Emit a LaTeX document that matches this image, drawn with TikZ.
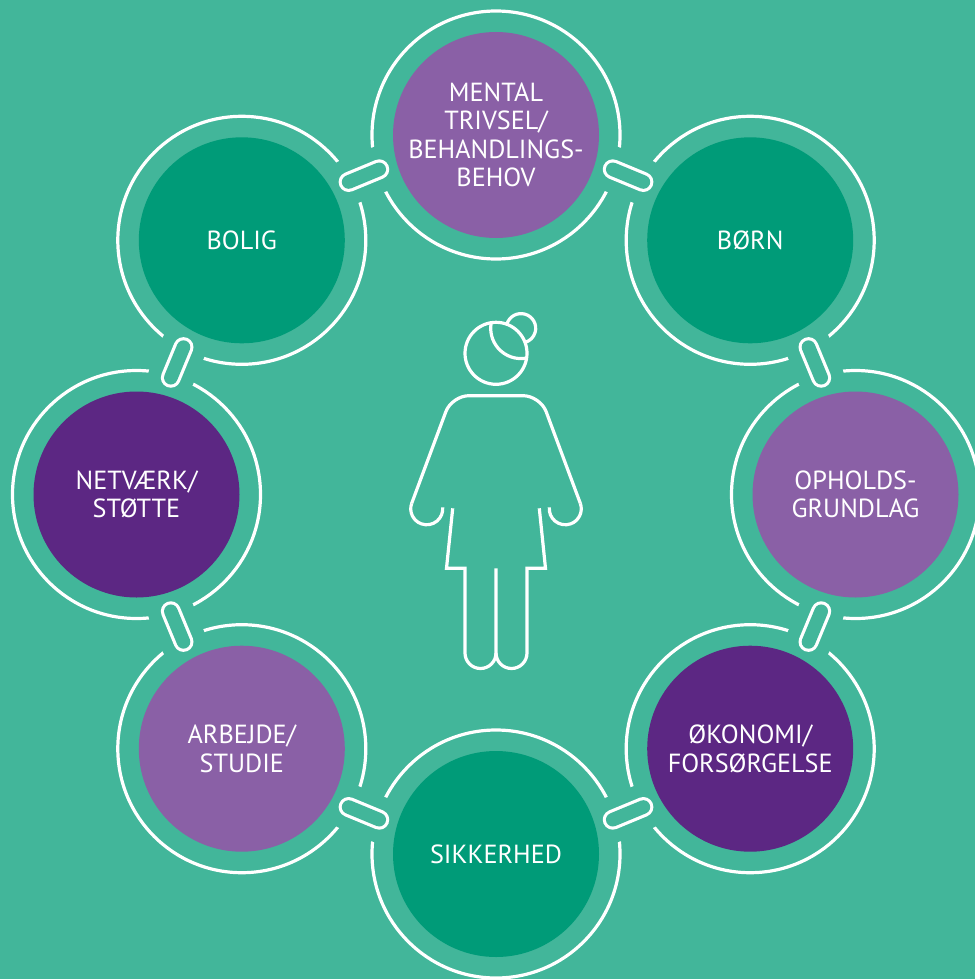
\documentclass[tikz,border=0pt]{standalone}
\usepackage{fontspec}
\setmainfont{PT Sans}
\usepackage{tikz}
\usetikzlibrary{calc}
\usepackage{xcolor}
\definecolor{bgteal}{HTML}{42B69A}
\definecolor{leafgreen}{HTML}{009B78}
\definecolor{lilac}{HTML}{8A60A6}
\definecolor{plum}{HTML}{5C2783}

\begin{document}
\begin{tikzpicture}[x=1pt, y=-1pt,
  ring/.style={circle, draw=white, line width=3.2pt, minimum size=248pt, inner sep=0pt},
  disc/.style={circle, minimum size=206pt, inner sep=0pt, text=white, align=center,
    font=\fontsize{26.2}{28.5}\selectfont},
  link/.style={draw=white, line width=20pt, line cap=round,
    preaction={draw=bgteal, line width=46pt, line cap=round},
    postaction={draw=bgteal, line width=13.6pt, line cap=round}},
  person/.style={draw=white, line width=3.2pt}]
  \useasboundingbox (0,0) rectangle (975,979);
  \fill[bgteal] (0,0) rectangle (975,979);
  \coordinate (ctr) at (496,494.5);

  \node[ring] (ring-mental) at (496,135) {};
  \node[ring] (ring-boern) at (750.2,240.3) {};
  \node[ring] (ring-opholds) at (855.5,494.5) {};
  \node[ring] (ring-oekonomi) at (750.2,748.7) {};
  \node[ring] (ring-sikkerhed) at (496,854) {};
  \node[ring] (ring-arbejde) at (241.8,748.7) {};
  \node[ring] (ring-netvaerk) at (136.5,494.5) {};
  \node[ring] (ring-bolig) at (241.8,240.3) {};

  \draw[link] ($(ring-mental)!.442!(ring-boern)!-13pt!(ctr)$) -- ($(ring-mental)!.558!(ring-boern)!-13pt!(ctr)$);
  \draw[link] ($(ring-boern)!.442!(ring-opholds)!-13pt!(ctr)$) -- ($(ring-boern)!.558!(ring-opholds)!-13pt!(ctr)$);
  \draw[link] ($(ring-opholds)!.442!(ring-oekonomi)!-13pt!(ctr)$) -- ($(ring-opholds)!.558!(ring-oekonomi)!-13pt!(ctr)$);
  \draw[link] ($(ring-oekonomi)!.442!(ring-sikkerhed)!-13pt!(ctr)$) -- ($(ring-oekonomi)!.558!(ring-sikkerhed)!-13pt!(ctr)$);
  \draw[link] ($(ring-sikkerhed)!.442!(ring-arbejde)!-13pt!(ctr)$) -- ($(ring-sikkerhed)!.558!(ring-arbejde)!-13pt!(ctr)$);
  \draw[link] ($(ring-arbejde)!.442!(ring-netvaerk)!-13pt!(ctr)$) -- ($(ring-arbejde)!.558!(ring-netvaerk)!-13pt!(ctr)$);
  \draw[link] ($(ring-netvaerk)!.442!(ring-bolig)!-13pt!(ctr)$) -- ($(ring-netvaerk)!.558!(ring-bolig)!-13pt!(ctr)$);
  \draw[link] ($(ring-bolig)!.442!(ring-mental)!-13pt!(ctr)$) -- ($(ring-bolig)!.558!(ring-mental)!-13pt!(ctr)$);

  \node[disc, fill=lilac] (mental) at (ring-mental) {MENTAL\\TRIVSEL/\\BEHANDLINGS-\\BEHOV};
  \node[disc, fill=leafgreen] (boern) at (ring-boern) {BØRN};
  \node[disc, fill=lilac] (opholds) at (ring-opholds) {OPHOLDS-\\GRUNDLAG};
  \node[disc, fill=plum] (oekonomi) at (ring-oekonomi) {ØKONOMI/\\FORSØRGELSE};
  \node[disc, fill=leafgreen] (sikkerhed) at (ring-sikkerhed) {SIKKERHED};
  \node[disc, fill=lilac] (arbejde) at (ring-arbejde) {ARBEJDE/\\STUDIE};
  \node[disc, fill=plum] (netvaerk) at (ring-netvaerk) {NETVÆRK/\\STØTTE};
  \node[disc, fill=leafgreen] (bolig) at (ring-bolig) {BOLIG};

  \coordinate (bun) at (521,328.3);
  \draw[person] (496,353.3) circle[radius=31];
  \draw[person] (bun) ++(195.7:14.7) arc[start angle=195.7, end angle=434.3, radius=14.7];
  \draw[person] (bun) ++(79.4:30.3) arc[start angle=79.4, end angle=190.6, radius=30.3];
  \draw[person] (411.7,503.3) arc[start angle=200, end angle=-5, radius=16];
  \draw[person, rounded corners=17pt] (411.7,503.3) -- (451.8,395.7) -- (540.2,395.7) -- (580.3,503.3);
  \draw[person] (580.3,503.3) arc[start angle=-20, end angle=185, radius=16];
  \draw[person] (452.7,508.3) -- (446.5,568.3) -- (465,568.3) -- (465,653)
    arc[start angle=180, end angle=0, radius=15.5] -- (496,568.3);
  \draw[person] (496,653) arc[start angle=180, end angle=0, radius=15.5] -- (527,568.3)
    -- (545.5,568.3) -- (539.3,508.3);
\end{tikzpicture}
\end{document}
